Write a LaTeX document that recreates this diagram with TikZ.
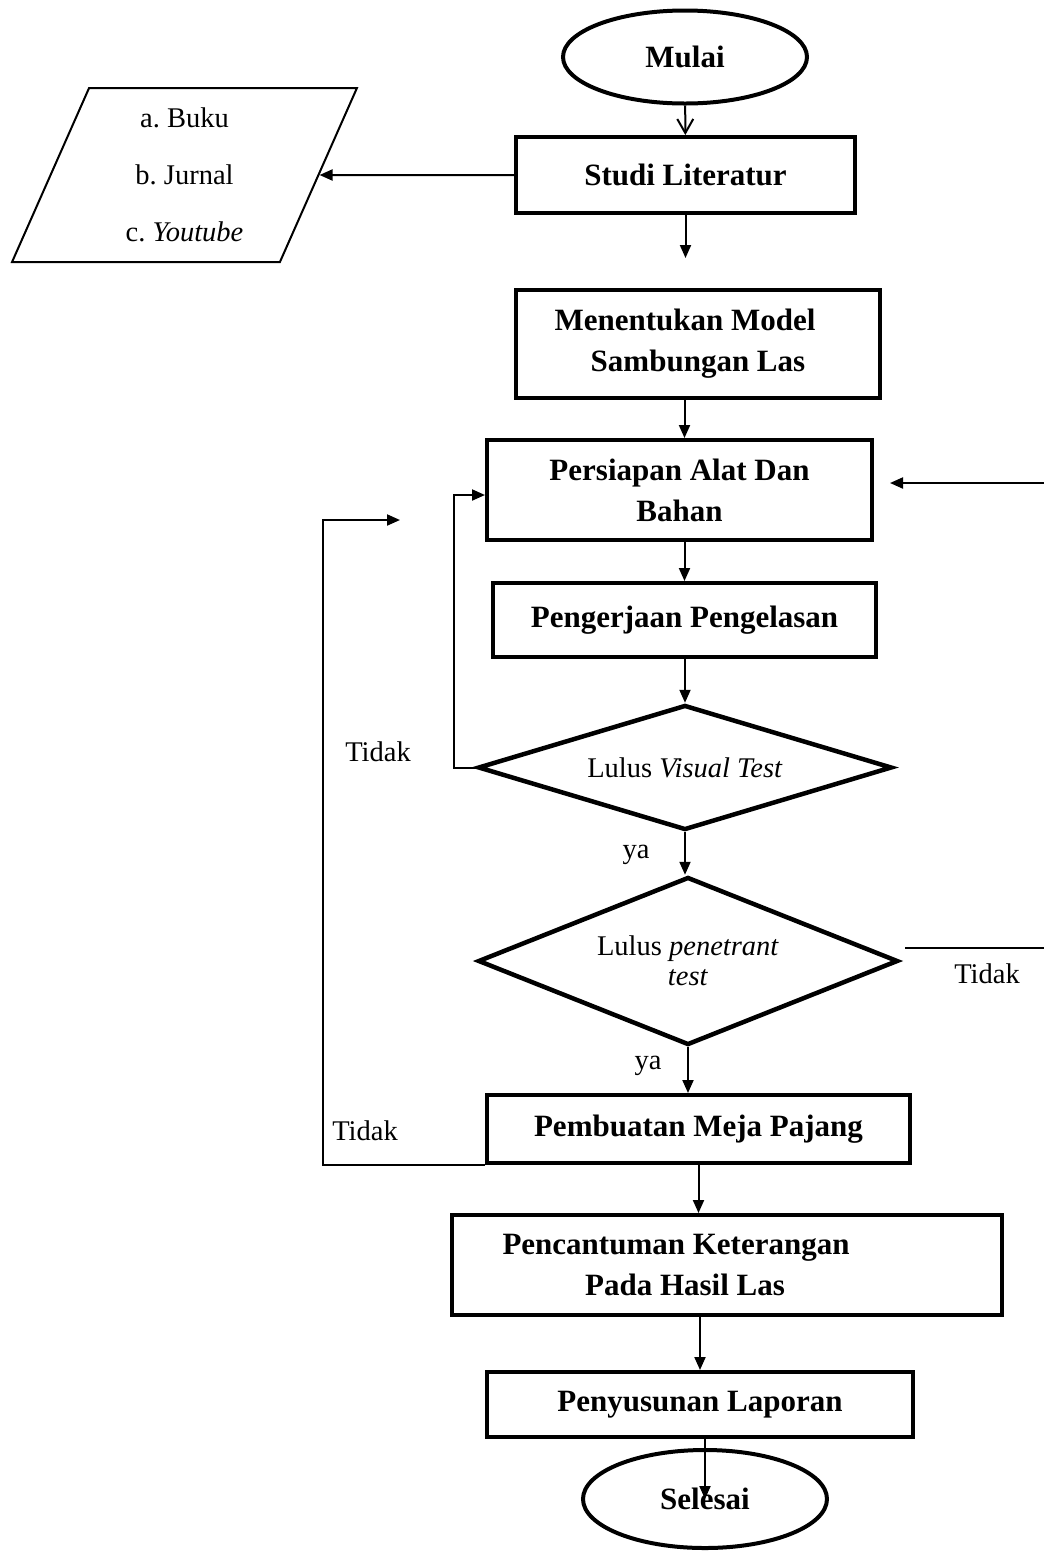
\documentclass[tikz,border=0pt]{standalone}
\usepackage{fontspec}
\setmainfont{Liberation Serif}
\usepackage{tikz}
\usetikzlibrary{shapes.geometric, positioning, arrows.meta}
\newcommand{\boldtxt}{\fontsize{31}{41}\selectfont\bfseries}
\newcommand{\plaintxt}{\fontsize{28.5}{30}\selectfont}
\tikzset{
    terminal/.style={ellipse, draw, line width=4pt, minimum width=244pt, minimum height=93pt, inner sep=0pt, font=\boldtxt},
    procbox/.style={rectangle, draw, line width=4pt, inner sep=0pt, align=center, font=\boldtxt},
    decision/.style={diamond, draw, line width=4.5pt, inner sep=0pt, align=center, font=\plaintxt},
    sourcebox/.style={trapezium, trapezium left angle=70.5, trapezium right angle=109.5, trapezium stretches=true, draw, line width=2pt, inner sep=0pt, align=center, font=\plaintxt},
    flowline/.style={line width=2pt, -{Triangle[length=13pt, width=11pt]}},
    plainline/.style={line width=2pt},
    note/.style={inner sep=0pt, font=\plaintxt}
}

\begin{document}
\frenchspacing
\begin{tikzpicture}[x=1pt, y=-1pt]
                    \useasboundingbox (0,0) rectangle (1044,1551);
                    \node[terminal] (mulai) at (685,57) {Mulai};
                    \node[procbox, minimum width=339pt, minimum height=76pt] (studi) at (685.5,175) {Studi Literatur};
                    \node[sourcebox, minimum width=345pt, minimum height=174pt] (sumber) at (184.5,175) {a. Buku\\[27pt] b. Jurnal\\[27pt] c. \textit{Youtube}};
                    \node[procbox, minimum width=364pt, minimum height=108pt] (model) at (698,344) {Menentukan Model\hspace*{26pt}\\Sambungan Las};
                    \node[procbox, minimum width=385pt, minimum height=100pt] (alat) at (679.5,490) {Persiapan Alat Dan\\Bahan};
                    \node[procbox, minimum width=383pt, minimum height=74pt] (las) at (684.5,620) {Pengerjaan Pengelasan};
                    \node[decision, aspect=3.31, minimum width=414pt, minimum height=125pt] (visual) at (685,767.5) {Lulus \textit{Visual Test}};
                    \node[decision, aspect=2.5, minimum width=420pt, minimum height=168pt] (penetrant) at (688,961) {Lulus \textit{penetrant}\\\textit{test}};
                    \node[procbox, minimum width=423pt, minimum height=68pt] (meja) at (698.5,1129) {Pembuatan Meja Pajang};
                    \node[procbox, minimum width=550pt, minimum height=100pt] (ket) at (727,1265) {Pencantuman Keterangan\hspace*{102pt}\\Pada Hasil Las\hspace*{84pt}};
                    \node[procbox, minimum width=426pt, minimum height=65pt] (laporan) at (700,1404.5) {Penyusunan Laporan};
                    \node[terminal, minimum height=98pt] (selesai) at (705,1499) {Selesai};
                    \node[note] (tidakA) at (378,752) {Tidak};
                    \node[note] (yaA) at (636,855) {ya};
                    \node[note] (tidakB) at (987,974) {Tidak};
                    \node[note] (yaB) at (648,1066) {ya};
                    \node[note] (tidakC) at (365,1131) {Tidak};
                    \coordinate (studiend) at (685.5,258);
                    \coordinate (loopend) at (400,520);
                    \coordinate (backin) at (1044,483);
                    \coordinate (backtip) at (890,483);
                    \coordinate (penout) at (1044,948);
                    \draw[line width=2pt, -{Straight Barb[length=14pt, width=16pt]}] (mulai) -- (studi);
                    \draw[flowline] (studi.west) -- (sumber.east);
                    \draw[flowline] (studi.south) -- (studiend);
                    \draw[flowline] (model.south -| las.north) -- (alat.north -| las.north);
                    \draw[flowline] (alat.south -| las.north) -- (las.north);
                    \draw[flowline] (las.south -| visual.north) -- (visual.north);
                    \draw[flowline] (visual.south) -- (visual.south |- penetrant.north);
                    \draw[flowline] (penetrant.south) -- (penetrant.south |- meja.north);
                    \draw[flowline] (meja.south) -- (meja.south |- ket.north);
                    \draw[flowline] (ket.south -| laporan.north) -- (laporan.north);
                    \draw[flowline] (laporan.south -| selesai) -- (selesai.center);
                    \draw[flowline] (visual.west) -- ++(-22,0) |- ([yshift=-5pt]alat.west);
                    \draw[flowline] (meja.south west) -- ++(-162,0) |- (loopend);
                    \draw[flowline] (backin) -- (backtip);
                    \draw[plainline] ([xshift=5pt]penetrant.east |- penout) -- (penout);
                \end{tikzpicture}
\end{document}
